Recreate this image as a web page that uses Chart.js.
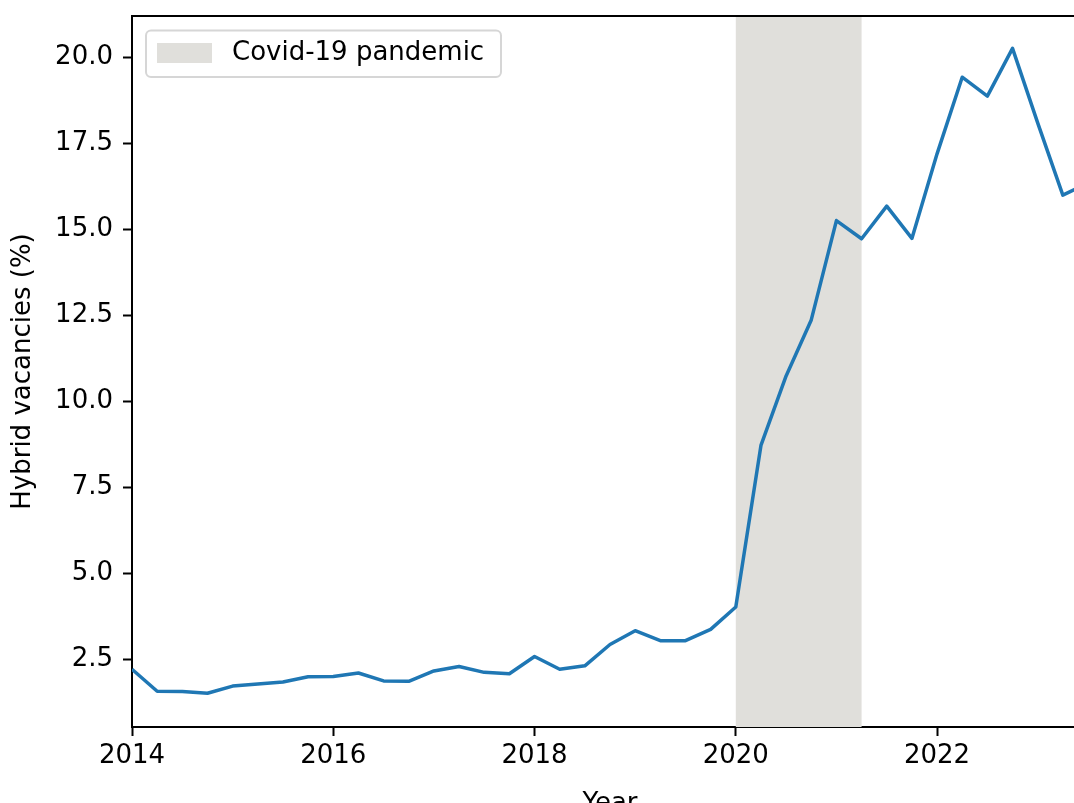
<!DOCTYPE html>
<html>
<head>
<meta charset="utf-8">
<script src="https://cdn.jsdelivr.net/npm/chart.js@4.4.0/dist/chart.umd.min.js"></script>
<style>
  html, body { margin: 0; padding: 0; background: #fff; overflow: hidden; }
  #wrap { width: 1074px; height: 803px; overflow: hidden; position: relative; }
  canvas { display: block; }
</style>
</head>
<body>
<div id="wrap">
  <canvas id="chart" width="1100" height="830" style="width:1100px;height:830px"></canvas>
</div>
<script>
// quarterly observations
const quarters = [
  '2014 Q1', '2014 Q2', '2014 Q3', '2014 Q4',
  '2015 Q1', '2015 Q2', '2015 Q3', '2015 Q4',
  '2016 Q1', '2016 Q2', '2016 Q3', '2016 Q4',
  '2017 Q1', '2017 Q2', '2017 Q3', '2017 Q4',
  '2018 Q1', '2018 Q2', '2018 Q3', '2018 Q4',
  '2019 Q1', '2019 Q2', '2019 Q3', '2019 Q4',
  '2020 Q1', '2020 Q2', '2020 Q3', '2020 Q4',
  '2021 Q1', '2021 Q2', '2021 Q3', '2021 Q4',
  '2022 Q1', '2022 Q2', '2022 Q3', '2022 Q4',
  '2023 Q1', '2023 Q2', '2023 Q3'
];
const hybridShare = [
  2.21, 1.57, 1.56, 1.51,
  1.72, 1.78, 1.84, 1.99,
  2.00, 2.10, 1.87, 1.86,
  2.16, 2.29, 2.12, 2.08,
  2.58, 2.21, 2.31, 2.93,
  3.33, 3.04, 3.04, 3.37,
  4.02, 8.72, 10.74, 12.37,
  15.26, 14.73, 15.68, 14.74,
  17.20, 19.43, 18.88, 20.27,
  18.10, 16.00, 16.35
];
const xTicks = [2014, 2016, 2018, 2020, 2022];
const yTicks = [2.5, 5.0, 7.5, 10.0, 12.5, 15.0, 17.5, 20.0];
const covidStart = 2020.0;
const covidEnd = 2021.25;
const covidLabel = 'Covid-19 pandemic';

const FONT = "'DejaVu Sans', sans-serif";
const FONT_SIZE = 26;
const LINE_BLUE = '#1f77b4';
const SHADE = '#e0dfdb';

function quarterToYear(q) {
    const [y, n] = q.split(' Q');
    return Number(y) + (Number(n) - 1) / 4;
}

const points = quarters.map((q, i) => ({ x: quarterToYear(q), y: hybridShare[i] }));

const covidShade = {
    id: 'covidShade',
    beforeDatasetsDraw(chart) {
        const { ctx, chartArea, scales } = chart;
        const x0 = scales.x.getPixelForValue(covidStart);
        const x1 = scales.x.getPixelForValue(covidEnd);
        ctx.save();
        ctx.fillStyle = SHADE;
        ctx.fillRect(x0, chartArea.top, x1 - x0, chartArea.bottom - chartArea.top);
        ctx.restore();
    }
};

const frameAndLegend = {
    id: 'frameAndLegend',
    afterDraw(chart) {
        const { ctx, chartArea } = chart;
        ctx.save();
        // top spine
        ctx.strokeStyle = '#000';
        ctx.lineWidth = 2;
        ctx.beginPath();
        ctx.moveTo(chartArea.left - 1, chartArea.top);
        ctx.lineTo(chartArea.right + 1, chartArea.top);
        ctx.stroke();

        // legend box
        const bx = 146, by = 30.5, bw = 355, bh = 46.5, r = 5;
        ctx.fillStyle = 'rgba(255,255,255,0.8)';
        ctx.strokeStyle = '#d6d6d6';
        ctx.lineWidth = 2;
        ctx.beginPath();
        ctx.roundRect(bx, by, bw, bh, r);
        ctx.fill();
        ctx.stroke();

        ctx.fillStyle = SHADE;
        ctx.fillRect(157, 43, 55, 20);

        ctx.fillStyle = '#000';
        ctx.font = FONT_SIZE + 'px ' + FONT;
        ctx.textBaseline = 'middle';
        ctx.textAlign = 'left';
        ctx.fillText(covidLabel, 232, 53);
        ctx.restore();
    }
};

new Chart(document.getElementById('chart'), {
    type: 'line',
    data: {
        datasets: [{
            label: 'Hybrid vacancies',
            data: points,
            borderColor: LINE_BLUE,
            borderWidth: 3.5,
            borderJoinStyle: 'round',
            pointRadius: 0,
            fill: false,
            tension: 0
        }]
    },
    options: {
        responsive: false,
        devicePixelRatio: 1,
        animation: false,
        layout: { padding: { top: 16, right: 12, left: 0, bottom: 0 } },
        plugins: {
            legend: { display: false },
            tooltip: { enabled: false }
        },
        scales: {
            x: {
                type: 'linear',
                min: 2014,
                max: 2023.5,
                afterFit: s => { s.height = 103; s.paddingLeft = 0; s.paddingRight = 0; },
                afterBuildTicks: s => { s.ticks = xTicks.map(v => ({ value: v })); },
                grid: { drawOnChartArea: false, drawTicks: true, tickLength: 9, tickWidth: 2, tickColor: '#000' },
                border: { display: true, color: '#000', width: 2 },
                ticks: {
                    padding: 5,
                    color: '#000',
                    font: { family: FONT, size: FONT_SIZE },
                    maxRotation: 0,
                    callback: v => String(v)
                },
                title: {
                    display: true,
                    text: 'Year',
                    color: '#000',
                    font: { family: FONT, size: FONT_SIZE },
                    padding: { top: 0, bottom: 10 }
                }
            },
            y: {
                min: 0.53,
                max: 21.21,
                afterFit: s => { s.width = 132; s.paddingTop = 0; s.paddingBottom = 0; },
                afterBuildTicks: s => { s.ticks = yTicks.map(v => ({ value: v })); },
                grid: { drawOnChartArea: false, drawTicks: true, tickLength: 9, tickWidth: 2, tickColor: '#000' },
                border: { display: true, color: '#000', width: 2 },
                ticks: {
                    padding: 10,
                    color: '#000',
                    font: { family: FONT, size: FONT_SIZE },
                    callback: v => v.toFixed(1)
                },
                title: {
                    display: true,
                    text: 'Hybrid vacancies (%)',
                    color: '#000',
                    font: { family: FONT, size: FONT_SIZE },
                    padding: { top: 8, bottom: 0 }
                }
            }
        }
    },
    plugins: [covidShade, frameAndLegend]
});
</script>
</body>
</html>
